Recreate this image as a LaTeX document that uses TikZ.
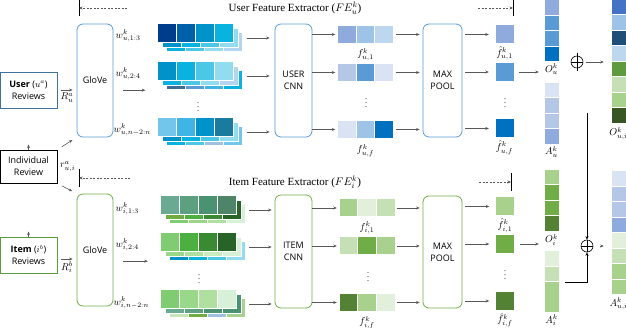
\documentclass[tikz,border=0pt]{standalone}
\usepackage{amsmath,amssymb}
\usepackage{fontspec}
\setmainfont{Liberation Serif}
\newfontfamily\boxfont{Open Sans}
\usepackage{tikz}
\usetikzlibrary{calc,positioning,arrows.meta}
\usepackage{xcolor}
% colours of the word vectors
\definecolor{navy}{HTML}{003C8C}
\definecolor{deepblue}{HTML}{0060AA}
\definecolor{cyanA}{HTML}{0092C8}
\definecolor{cyanB}{HTML}{0AB2E0}
\definecolor{cyanC}{HTML}{4BC8E6}
\definecolor{cyanD}{HTML}{92DCEF}
\definecolor{iceblue}{HTML}{B4D4F0}
\definecolor{steel}{HTML}{3C6E96}
\definecolor{skyA}{HTML}{72C6EC}
\definecolor{skyB}{HTML}{40B4E4}
\definecolor{tealblue}{HTML}{1B7AA0}
\definecolor{lavblue}{HTML}{A0C0E0}
\definecolor{sageA}{HTML}{6AAA92}
\definecolor{sageB}{HTML}{5CA080}
\definecolor{sageC}{HTML}{4A9272}
\definecolor{sageD}{HTML}{4E8468}
\definecolor{leafA}{HTML}{80CC70}
\definecolor{leafB}{HTML}{4CB040}
\definecolor{leafC}{HTML}{3A8A34}
\definecolor{leafD}{HTML}{286428}
\definecolor{mintA}{HTML}{98D888}
\definecolor{mintB}{HTML}{B0E0A0}
\definecolor{mintC}{HTML}{C8ECC0}
\definecolor{mintD}{HTML}{D8F0D8}
\definecolor{paleG}{HTML}{C8E4B8}
\definecolor{grassG}{HTML}{70AC40}
\definecolor{lightG}{HTML}{A8D090}
% office palette
\definecolor{oBlueA}{HTML}{8FAADC}
\definecolor{oBlueB}{HTML}{5B9BD5}
\definecolor{oBlueC}{HTML}{0070C0}
\definecolor{oBlueD}{HTML}{B4C7E7}
\definecolor{oBlueE}{HTML}{DAE3F3}
\definecolor{oBlueF}{HTML}{9DC3E6}
\definecolor{oNavy}{HTML}{1F4E79}
\definecolor{oRoyal}{HTML}{4472C4}
\definecolor{oSky}{HTML}{BDD7EE}
\definecolor{gA}{HTML}{E2EFDA}
\definecolor{gB}{HTML}{C5E0B4}
\definecolor{gC}{HTML}{A9D18E}
\definecolor{gD}{HTML}{70AD47}
\definecolor{gE}{HTML}{548235}
\definecolor{gF}{HTML}{375623}
\definecolor{gG}{HTML}{5E9A3E}
\definecolor{revblue}{HTML}{41719C}
\definecolor{linegray}{HTML}{595959}

\tikzset{
  revbox/.style={
    draw,
    rectangle,
    minimum width=57pt,
    inner sep=0pt,
    line width=0.9pt,
    align=center,
    font=\boxfont\fontsize{9}{12}\selectfont,
  },
  ublock/.style={
    draw=oBlueB,
    rectangle,
    rounded corners=6pt,
    minimum height=113pt,
    inner sep=0pt,
    line width=0.8pt,
    align=center,
    font=\boxfont\fontsize{9}{12}\selectfont,
  },
  iblock/.style={ublock, draw=gD},
  stack/.style={rectangle, minimum width=85pt, minimum height=28pt, inner sep=0pt},
  vecthree/.style={rectangle, minimum width=56pt, minimum height=18pt, inner sep=0pt},
  vecone/.style={rectangle, minimum size=19pt, inner sep=0pt},
  colfour/.style={rectangle, minimum width=15pt, minimum height=62pt, inner sep=0pt},
  coleight/.style={rectangle, minimum width=15pt, minimum height=124pt, inner sep=0pt},
  arr/.style={draw=linegray, line width=0.6pt, -{Stealth[length=3.5pt,width=3pt]}},
  dasharr/.style={draw=linegray, line width=0.6pt, dash pattern=on 2pt off 1.5pt,
    -{Stealth[length=3.5pt,width=3pt]}},
  bar/.style={line width=1pt},
  lbl/.style={font=\fontsize{10}{11}\selectfont, inner sep=0.5pt},
  ttl/.style={font=\fontsize{11}{13}\selectfont, inner sep=1pt},
  oplus/.style={draw, circle, minimum size=12pt, inner sep=0pt, line width=0.6pt},
}

% row of cells: anchor, offset, cell width, cell height, colours
\newcommand{\hcells}[5]{%
  \foreach \clr [count=\idx from 0] in {#5}
    {\fill[fill=\clr, draw=white, line width=0.6pt]
      ($(#1)+(#2)+(\idx*#3,0)$) rectangle ++(#3,#4);}%
}
% column of cells: anchor, cell width, cell height, colours
\newcommand{\vcells}[4]{%
  \foreach \clr [count=\idx from 0] in {#4}
    {\fill[fill=\clr, draw=white, line width=0.6pt]
      ($(#1)+(0,\idx*#3)$) rectangle ++(#2,#3);}%
}
% stack of three word-vector layers: node, front, middle, back colours
\newcommand{\embed}[4]{%
  \hcells{#1.north west}{9,9}{19}{19}{#4}
  \hcells{#1.north west}{5,5}{19}{19}{#3}
  \hcells{#1.north west}{0,0}{19}{19}{#2}
}

\begin{document}
\begin{tikzpicture}[x=1pt, y=-1pt]
  \useasboundingbox (0,0) rectangle (626,328);

  % titles
  \node[ttl] (utitle) at (295,8) {User Feature Extractor ($FE^k_u$)};
  \node[ttl] (ititle) at (295,182) {Item Feature Extractor ($FE^k_i$)};
  \coordinate (uBarL) at (79,8);    \coordinate (uDashL) at (127,8);
  \coordinate (uBarR) at (513,8);   \coordinate (uDashR) at (478,8);
  \coordinate (iBarL) at (79,178);  \coordinate (iDashL) at (130,178);
  \coordinate (iBarR) at (511,182); \coordinate (iDashR) at (479,182);
  \draw[bar] ([yshift=8pt]uBarL) -- ([yshift=-8pt]uBarL);
  \draw[bar] ([yshift=8pt]uBarR) -- ([yshift=-8pt]uBarR);
  \draw[bar] ([yshift=9pt]iBarL) -- ([yshift=-9pt]iBarL);
  \draw[bar] ([yshift=9pt]iBarR) -- ([yshift=-9pt]iBarR);
  \draw[dasharr] (uDashL) -- (uBarL);
  \draw[dasharr] (uDashR) -- (uBarR);
  \draw[dasharr] (iDashL) -- (iBarL);
  \draw[dasharr] (iDashR) -- (iBarR);

  % reviews
  \node[revbox, draw=revblue, minimum height=36pt] (userRev) at (28.5,90) {\textbf{User} ($u^a$)\\Reviews};
  \node[revbox, minimum height=33pt] (indivRev) at (28.5,166.5) {Individual\\Review};
  \node[revbox, draw=gG, minimum height=36pt] (itemRev) at (28.5,255) {\textbf{Item} ($i^b$)\\Reviews};
  \node[lbl, right=2pt of indivRev] (rlbl) {$r^a_{u,i}$};
  \draw[arr] (indivRev.north) -- ++(0,-5);
  \draw[arr] (itemRev.north) -- ++(0,-5);

  % GloVe
  \node[ublock, minimum width=36pt] (gloveU) at (95,80.5) {GloVe};
  \node[iblock, minimum width=36pt, minimum height=112pt] (gloveI) at (95,250) {GloVe};
  \draw[arr, shorten <=4pt, shorten >=4pt] (userRev.east) -- (userRev.east -| gloveU.west)
    node[lbl, midway, below=2pt] {$R^a_u$};
  \draw[arr, shorten <=4pt, shorten >=4pt] ([yshift=-4pt]itemRev.east) -- ([yshift=-4pt]itemRev.east -| gloveI.west)
    node[lbl, midway, below=2pt] {$R^b_i$};
  \draw[arr, shorten <=5pt, shorten >=5pt] (indivRev.north east) -- (gloveU.south west);
  \draw[arr, shorten <=5pt, shorten >=5pt] (indivRev.south east) -- (gloveI.north west);

  % word vectors, user side
  \node[stack] (embU1) at (200,38) {};
  \node[stack] (embU2) at (200,76) {};
  \node[stack] (embU3) at (200,132) {};
  \embed{embU1}{navy,deepblue,cyanA,cyanB}{cyanA,cyanB,cyanC,cyanD}{cyanB,cyanC,cyanD,iceblue}
  \embed{embU2}{cyanA,cyanB,cyanC,cyanD}{cyanB,cyanC,cyanD,iceblue}{steel,oBlueB,skyB,cyanB}
  \embed{embU3}{skyA,skyB,cyanA,tealblue}{cyanA,cyanB,cyanC,cyanD}{cyanB,cyanC,lavblue,skyA}
  \node[text=linegray] (vdEmbU) at (198,104) {$\vdots$};
  \node[lbl, anchor=west] (wU1) at (115,36) {$w^k_{u,1:3}$};
  \node[lbl, anchor=west] (wU2) at (115,74) {$w^k_{u,2:4}$};
  \node[lbl, anchor=west] (wU3) at (113,130) {$w^k_{u,n-2:n}$};
  \draw[arr, shorten <=10pt, shorten >=12pt] (gloveU.east |- embU2.south) -- (embU2.south west);

  % word vectors, item side
  \node[stack] (embI1) at (202.5,210) {};
  \node[stack] (embI2) at (202.5,247) {};
  \node[stack] (embI3) at (202.5,304) {};
  \embed{embI1}{sageA,sageB,sageC,sageD}{grassG,leafB,leafC,leafD}{leafA,mintA,mintB,mintD}
  \embed{embI2}{leafA,leafB,leafC,leafD}{mintA,mintB,mintC,mintD}{cyanA,cyanB,cyanC,cyanD}
  \embed{embI3}{leafA,mintA,mintB,mintD}{sageA,sageB,sageC,sageC}{paleG,grassG,lavblue,lightG}
  \node[text=linegray] (vdEmbI) at (199,276) {$\vdots$};
  \node[lbl, anchor=west] (wI1) at (115,209) {$w^k_{i,1:3}$};
  \node[lbl, anchor=west] (wI2) at (115,245) {$w^k_{i,2:4}$};
  \node[lbl, anchor=west] (wI3) at (113,303) {$w^k_{i,n-2:n}$};
  \draw[arr, shorten <=10pt, shorten >=12pt] (gloveI.east |- embI2.south) -- (embI2.south west);

  % CNNs
  \node[ublock, minimum width=37pt] (cnnU) at (293.5,80.5) {USER\\CNN};
  \node[iblock, minimum width=37pt] (cnnI) at (293.5,251.5) {ITEM\\CNN};
  \foreach \r in {1,2,3} {
    \draw[arr, shorten <=4pt, shorten >=5pt] (embU\r.east) -- (embU\r.east -| cnnU.west);
    \draw[arr, shorten <=4pt, shorten >=3pt] (embI\r.east) -- (embI\r.east -| cnnI.west);
  }

  % feature maps
  \node[vecthree] (fU1) at (365.5,34.5) {};
  \node[vecthree] (fU2) at (365.5,72.5) {};
  \node[vecthree] (fU3) at (365.5,129.5) {};
  \node[vecthree] (fI1) at (367,208) {};
  \node[vecthree] (fI2) at (367,246) {};
  \node[vecthree] (fI3) at (367,302.5) {};
  \hcells{fU1.north west}{0,0}{18.67}{18}{oBlueA,oBlueF,oSky}
  \hcells{fU2.north west}{0,0}{18.67}{18}{oBlueD,oBlueB,oBlueE}
  \hcells{fU3.north west}{0,0}{18.67}{18}{oBlueE,oBlueF,oBlueC}
  \hcells{fI1.north west}{0,0}{18.67}{18}{gC,gA,gB}
  \hcells{fI2.north west}{0,0}{18.67}{18}{gB,gD,gC}
  \hcells{fI3.north west}{0,0}{18.67}{18}{gE,gC,gA}
  \node[text=linegray] (vdFU) at (366,100) {$\vdots$};
  \node[text=linegray] (vdFI) at (368,274) {$\vdots$};
  \node[lbl, below=4pt of fU1] {$f^k_{u,1}$};
  \node[lbl, below=5pt of fU3] {$f^k_{u,f}$};
  \node[lbl, below=4pt of fI1] {$f^k_{i,1}$};
  \node[lbl, below=4pt of fI3] {$f^k_{i,f}$};

  % max pooling
  \node[ublock, minimum width=39pt] (poolU) at (442.5,80.5) {MAX\\POOL};
  \node[iblock, minimum width=39pt, minimum height=112pt] (poolI) at (442.5,252) {MAX\\POOL};
  \node[vecone] (pU1) at (504.5,34.5) {};
  \node[vecone] (pU2) at (504.5,72) {};
  \node[vecone] (pU3) at (504.5,128.5) {};
  \node[vecone] (pI1) at (505,206.5) {};
  \node[vecone] (pI2) at (505,244) {};
  \node[vecone] (pI3) at (505,301) {};
  \hcells{pU1.north west}{0,0}{19}{19}{oBlueA}
  \hcells{pU2.north west}{0,0}{19}{19}{oBlueB}
  \hcells{pU3.north west}{0,0}{19}{19}{oBlueC}
  \hcells{pI1.north west}{0,0}{19}{19}{gC}
  \hcells{pI2.north west}{0,0}{19}{19}{gD}
  \hcells{pI3.north west}{0,0}{19}{19}{gE}
  \node[text=linegray] (vdPU) at (505,100) {$\vdots$};
  \node[text=linegray] (vdPI) at (505,272) {$\vdots$};
  \node[lbl, below=2pt of pU1] {$\hat{f}^k_{u,1}$};
  \node[lbl, below=2pt of pU3] {$\hat{f}^k_{u,f}$};
  \node[lbl, below=2pt of pI1] {$\hat{f}^k_{i,1}$};
  \node[lbl, below=2pt of pI3] {$\hat{f}^k_{i,f}$};
  \foreach \r in {1,2,3} {
    \draw[arr, shorten >=2pt] (cnnU.east |- fU\r.west) -- (fU\r.west);
    \draw[arr, shorten >=2pt] (cnnI.east |- fI\r.west) -- (fI\r.west);
    \draw[arr, shorten <=2pt, shorten >=3pt] (fU\r.east) -- (fU\r.east -| poolU.west);
    \draw[arr, shorten <=2pt, shorten >=3pt] (fI\r.east) -- (fI\r.east -| poolI.west);
    \draw[arr, shorten <=3pt, shorten >=6pt] (poolU.east |- pU\r.west) -- (pU\r.west);
    \draw[arr, shorten <=3pt, shorten >=6pt] (poolI.east |- pI\r.west) -- (pI\r.west);
  }

  % output and attention columns
  \node[colfour] (colOu) at (551.5,31) {};
  \node[colfour] (colAu) at (551.5,113.5) {};
  \node[colfour] (colOi) at (551.5,200.5) {};
  \node[colfour] (colAi) at (551.5,282) {};
  \node[coleight] (colOui) at (618.5,61.5) {};
  \node[coleight] (colAui) at (618.5,233) {};
  \vcells{colOu.north west}{15}{15.5}{oBlueA,oBlueB,oBlueB,oBlueC}
  \vcells{colAu.north west}{15}{15.5}{oBlueE,oBlueD,oBlueD,oBlueA}
  \vcells{colOi.north west}{15}{15.5}{gC,gD,gD,gE}
  \vcells{colAi.north west}{15}{15.5}{gA,gB}
  \fill[fill=gC, draw=white, line width=0.6pt] ($(colAi.north west)+(0,31)$) rectangle ++(15,31);
  \vcells{colOui.north west}{15}{15.5}{oRoyal,oBlueF,oNavy,oSky,gG,gB,gC,gF}
  \vcells{colAui.north west}{15}{15.5}{oBlueE,oBlueD,oBlueD,oBlueA,gA,gB,gC,gC}
  \node[lbl, below=1pt of colOu] {$O^k_u$};
  \node[lbl, below=1pt of colAu] {$A^k_u$};
  \node[lbl, below=2pt of colOi] {$O^k_i$};
  \node[lbl, below=1pt of colAi] {$A^k_i$};
  \node[lbl, below=3pt of colOui] {$O^k_{u,i}$};
  \node[lbl, below=2pt of colAui] {$A^k_{u,i}$};
  \draw[arr, shorten <=5pt, shorten >=5pt] (pU2.east) -- (pU2.east -| colOu.west);
  \draw[arr, shorten <=5pt, shorten >=5pt] (pI2.east) -- (pI2.east -| colOi.west);

  % concatenation
  \node[oplus] (opO) at (577,62) {};
  \draw (opO.west) -- (opO.east);
  \draw ([yshift=3pt]opO.north) -- ([yshift=-3pt]opO.south);
  \draw[arr, shorten <=3pt, shorten >=7pt] (opO.east) -- (opO.east -| colOui.west);
  \node[oplus] (opA) at (587,246) {};
  \draw (opA.west) -- (opA.east);
  \draw (opA.north) -- (opA.south);
  \draw[arr, line width=0.8pt, draw=black] (opA.north |- colAu.east) -- (opA.north);
  \draw[arr, line width=0.8pt, draw=black, shorten <=6pt] (colAi.east) -| (opA.south);
  \draw[arr, shorten <=7pt, shorten >=7pt] (opA.east) -- (opA.east -| colAui.west);
\end{tikzpicture}
\end{document}
